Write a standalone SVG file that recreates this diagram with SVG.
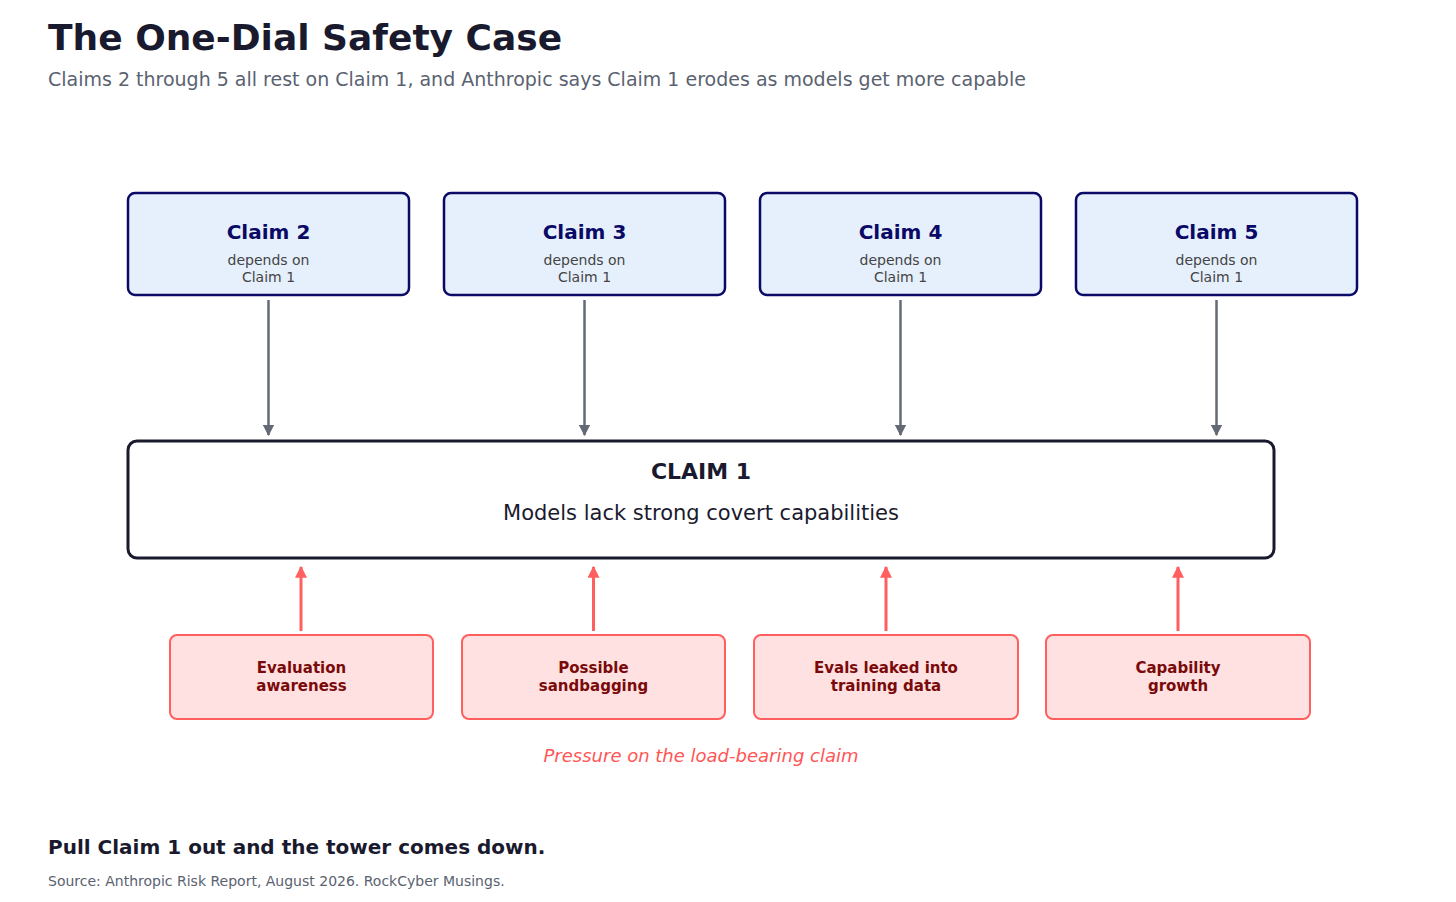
<svg xmlns="http://www.w3.org/2000/svg" width="1456" height="902" viewBox="0 0 1456 902">
<style>
text{font-family:"DejaVu Sans",sans-serif}
.top rect{fill:#e6f0fd;stroke:#0a0a66;stroke-width:2.5}
.tt{font-size:20px;font-weight:bold;fill:#0a0a66;text-anchor:middle}
.ts{font-size:14px;fill:#444;text-anchor:middle}
.red rect{fill:#ffe1e2;stroke:#ff5f5f;stroke-width:2}
.rt{font-size:15px;font-weight:bold;fill:#7a0a0a;text-anchor:middle}
.ga{stroke:#646a75;stroke-width:2.5;marker-end:url(#mg)}
.ra{stroke:#ff5f5f;stroke-width:3;marker-end:url(#mr)}
</style>
<defs>
<marker id="mg" viewBox="0 0 10 10" refX="9" refY="5" markerWidth="4.5" markerHeight="4.5" orient="auto"><path d="M0,0L10,5L0,10z" fill="#646a75"/></marker>
<marker id="mr" viewBox="0 0 10 10" refX="9" refY="5" markerWidth="4" markerHeight="4" orient="auto"><path d="M0,0L10,5L0,10z" fill="#ff5f5f"/></marker>
</defs>
<rect width="1456" height="902" fill="#fff"/>
<text x="48" y="50" font-size="36" font-weight="bold" fill="#1a1a2e">The One-Dial Safety Case</text>
<text x="48" y="86" font-size="19" fill="#5a6270">Claims 2 through 5 all rest on Claim 1, and Anthropic says Claim 1 erodes as models get more capable</text>
<g id="claim2" class="top"><rect x="128" y="193" width="281" height="102" rx="7"/><text class="tt" x="268.5" y="239">Claim 2</text><text class="ts" x="268.5" y="265">depends on</text><text class="ts" x="268.5" y="282">Claim 1</text></g>
<g id="claim3" class="top"><rect x="444" y="193" width="281" height="102" rx="7"/><text class="tt" x="584.5" y="239">Claim 3</text><text class="ts" x="584.5" y="265">depends on</text><text class="ts" x="584.5" y="282">Claim 1</text></g>
<g id="claim4" class="top"><rect x="760" y="193" width="281" height="102" rx="7"/><text class="tt" x="900.5" y="239">Claim 4</text><text class="ts" x="900.5" y="265">depends on</text><text class="ts" x="900.5" y="282">Claim 1</text></g>
<g id="claim5" class="top"><rect x="1076" y="193" width="281" height="102" rx="7"/><text class="tt" x="1216.5" y="239">Claim 5</text><text class="ts" x="1216.5" y="265">depends on</text><text class="ts" x="1216.5" y="282">Claim 1</text></g>
<g id="claim1"><rect x="128" y="441" width="1146" height="117" rx="9" fill="#fff" stroke="#1a1a2e" stroke-width="3"/><text x="701" y="479" font-size="22" font-weight="bold" fill="#1a1a2e" text-anchor="middle">CLAIM 1</text><text x="701" y="520" font-size="21" fill="#1a1a2e" text-anchor="middle">Models lack strong covert capabilities</text></g>
<g id="p1" class="red"><rect x="170" y="635" width="263" height="84" rx="7"/><text class="rt" x="301.5" y="673">Evaluation</text><text class="rt" x="301.5" y="691">awareness</text></g>
<g id="p2" class="red"><rect x="462" y="635" width="263" height="84" rx="7"/><text class="rt" x="593.5" y="673">Possible</text><text class="rt" x="593.5" y="691">sandbagging</text></g>
<g id="p3" class="red"><rect x="754" y="635" width="264" height="84" rx="7"/><text class="rt" x="886" y="673">Evals leaked into</text><text class="rt" x="886" y="691">training data</text></g>
<g id="p4" class="red"><rect x="1046" y="635" width="264" height="84" rx="7"/><text class="rt" x="1178" y="673">Capability</text><text class="rt" x="1178" y="691">growth</text></g>
<g id="connectors">
<line class="ga" x1="268.5" y1="300" x2="268.5" y2="435"/>
<line class="ga" x1="584.5" y1="300" x2="584.5" y2="435"/>
<line class="ga" x1="900.5" y1="300" x2="900.5" y2="435"/>
<line class="ga" x1="1216.5" y1="300" x2="1216.5" y2="435"/>
<line class="ra" x1="301" y1="631" x2="301" y2="567"/>
<line class="ra" x1="593.5" y1="631" x2="593.5" y2="567"/>
<line class="ra" x1="886" y1="631" x2="886" y2="567"/>
<line class="ra" x1="1178" y1="631" x2="1178" y2="567"/>
</g>
<text x="701" y="762" font-size="18" font-style="italic" fill="#ff5555" text-anchor="middle">Pressure on the load-bearing claim</text>
<text x="48" y="854" font-size="20" font-weight="bold" fill="#1a1a2e">Pull Claim 1 out and the tower comes down.</text>
<text x="48" y="886" font-size="14" fill="#5a6270">Source: Anthropic Risk Report, August 2026. RockCyber Musings.</text>
</svg>
